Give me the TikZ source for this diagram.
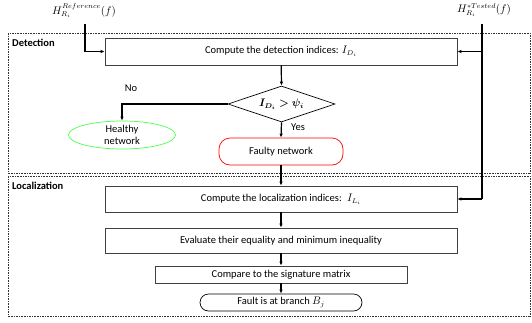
\documentclass[tikz,border=0pt]{standalone}
\usepackage{amsmath}
\usepackage{bm}
\usepackage{fontspec}
\setmainfont{Carlito}
\usetikzlibrary{shapes.geometric,shapes.misc,arrows.meta}
\begin{document}
\begin{tikzpicture}[x=1pt,y=-1pt,
  every node/.style={font=\fontsize{10.5}{12}\selectfont, inner sep=0pt},
  box/.style={draw=black!75, line width=0.7pt, rectangle},
  frame/.style={draw=black!80, line width=0.7pt, dash pattern=on 1.6pt off 1pt},
  conn/.style={draw=black, line width=1.2pt, -{Latex[length=4pt,width=3.5pt]}},
  feed/.style={draw=black, line width=1.2pt},
  sect/.style={font=\fontsize{10.5}{12}\selectfont\bfseries, anchor=west}]
\useasboundingbox (0,0) rectangle (532,322);
% frames
\draw[frame] (8,33) rectangle (530,173);
\draw[frame] (8,176) rectangle (530,316);
\node[sect] (det) at (12,43) {Detection};
\node[sect] (loc) at (12,186) {Localization};
% boxes
\node[box, minimum width=352pt, minimum height=27pt] (b1) at (281,51.5) {Compute the detection indices: $I_{D_i}$};
\node[diamond, draw=black, line width=0.7pt, aspect=3, minimum width=107pt, minimum height=36pt, inner sep=0pt] (dia) at (281.5,104) {$\bm{I_{D_i} > \psi_i}$};
\node[ellipse, draw=green!70!white, line width=0.7pt, minimum width=107pt, minimum height=28pt, align=center, font=\fontsize{10.5}{11.5}\selectfont] (healthy) at (122,135) {Healthy\\network};
\node[rectangle, rounded corners=11pt, draw=red, line width=0.7pt, minimum width=124pt, minimum height=27pt] (faulty) at (281,151.5) {Faulty network};
\node[box, minimum width=352pt, minimum height=26pt] (b2) at (281,199) {Compute the localization indices:\enspace$I_{L_i}$};
\node[box, minimum width=352pt, minimum height=25pt] (b3) at (281,240.5) {Evaluate their equality and minimum inequality};
\node[box, minimum width=252pt, minimum height=17pt] (b4) at (281,274.5) {Compare to the signature matrix};
\node[rounded rectangle, draw=black, line width=0.7pt, minimum width=162pt, minimum height=17pt] (b5) at (281,302.5) {Fault is at branch $B_j$};
% inputs
\node (href) at (84,11) {$H_{R_i}^{Reference}(f)$};
\node (htest) at (484,10) {$H_{R_i}^{*Tested}(f)$};
\coordinate (rtop) at (85,24);
\coordinate (ttop) at (482,24);
\coordinate (tbot) at (482,199);
\draw[conn] (rtop) |- (b1.west);
\draw[feed] (ttop) -- (tbot);
\draw[conn] (ttop |- b1.east) -- (b1.east);
\draw[conn] (tbot) -- (b2.east);
% flow
\draw[conn] (b1) -- (dia.north);
\draw[conn] (dia.west) -| (healthy.north);
\draw[conn] (dia.south) -- (faulty.north);
\draw[conn] (faulty.south) -- (b2.north);
\draw[conn] (b2) -- (b3);
\draw[conn] (b3) -- (b4);
\draw[conn] (b4) -- (b5);
\node (no) at (131,88) {No};
\node (yes) at (298,127) {Yes};
\end{tikzpicture}
\end{document}
